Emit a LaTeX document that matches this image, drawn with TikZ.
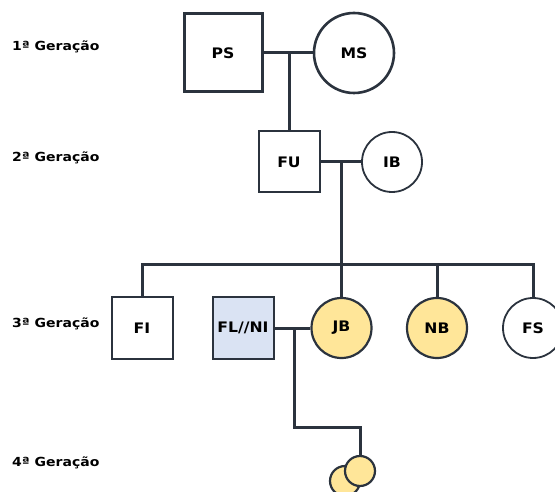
\documentclass[tikz,border=0pt]{standalone}
\usepackage{fontspec}
\setmainfont{DejaVu Sans}
\definecolor{ink}{HTML}{2B333E}
\definecolor{paleblue}{HTML}{DAE3F3}
\definecolor{paleyellow}{HTML}{FFE699}
\tikzset{
  gen/.style={anchor=west, inner sep=0pt, font=\fontsize{12.5}{14}\selectfont\bfseries},
  person/.style={draw=ink, fill=white, inner sep=0pt, font=\fontsize{14.5}{16}\selectfont\bfseries},
  male/.style={person, rectangle, minimum size=61pt, line width=2pt},
  female/.style={person, circle, minimum size=60pt, line width=1.8pt},
  marked/.style={fill=paleyellow, line width=2.2pt},
  link/.style={draw=ink, line width=3pt},
}
\begin{document}
\begin{tikzpicture}[x=1pt, y=-1pt]
  \useasboundingbox (0,0) rectangle (555,492);

  % generation labels
  \node[gen] (g1) at (12,47) {\scalebox{1.12}[1]{1ª Geração}};
  \node[gen] (g2) at (12,158) {\scalebox{1.12}[1]{2ª Geração}};
  \node[gen] (g3) at (12,324) {\scalebox{1.12}[1]{3ª Geração}};
  \node[gen] (g4) at (12,463) {\scalebox{1.12}[1]{4ª Geração}};

  % first generation
  \node[male, minimum size=78pt, line width=3pt] (ps) at (223,53) {\scalebox{1.08}[1]{PS}};
  \node[female, minimum size=80pt, line width=2.6pt] (ms) at (354,53) {\scalebox{1.08}[1]{MS}};

  % second generation
  \node[male] (fu) at (289,162) {\scalebox{1.08}[1]{FU}};
  \node[female] (ib) at (392,162) {\scalebox{1.08}[1]{IB}};

  % third generation
  \node[male] (fi) at (142,328) {\scalebox{1.08}[1]{FI}};
  \node[male, fill=paleblue] (fl) at (243,328) {\scalebox{1.08}[1]{FL//NI}};
  \node[female, marked] (jb) at (341.5,328) {\scalebox{1.08}[1]{JB}};
  \node[female, marked] (nb) at (437,328) {\scalebox{1.08}[1]{NB}};
  \node[female] (fs) at (533,328) {\scalebox{1.08}[1]{FS}};

  % couple and sibship lines
  \coordinate (m1) at (289,53);
  \coordinate (m2) at (341.5,162);
  \coordinate (m3) at (294,328);
  \coordinate (barL) at (142,265);
  \coordinate (barR) at (533,265);
  \coordinate (bend) at (360,427);

  \draw[link] (ps.east) -- (ms.west);
  \draw[link] (m1) -- (fu.north);
  \draw[link] (fu.east) -- (ib.west);
  \draw[link] (m2) -- (m2 |- barL);
  \draw[link, line join=miter] (fi.north) -- (barL) -- (barR) -- (fs.north);
  \draw[link] (m2 |- barL) -- (jb.north);
  \draw[link] (nb.north |- barL) -- (nb.north);
  \draw[link] (fl.east) -- (jb.west);

  % fourth generation: twins
  \node[female, marked, minimum size=30pt] (t1) at (345,481) {};
  \node[female, marked, minimum size=30pt] (t2) at (360,471) {};
  \draw[link, line join=miter] (m3) -- (m3 |- bend) -- (bend) -- (t2.north);
\end{tikzpicture}
\end{document}
